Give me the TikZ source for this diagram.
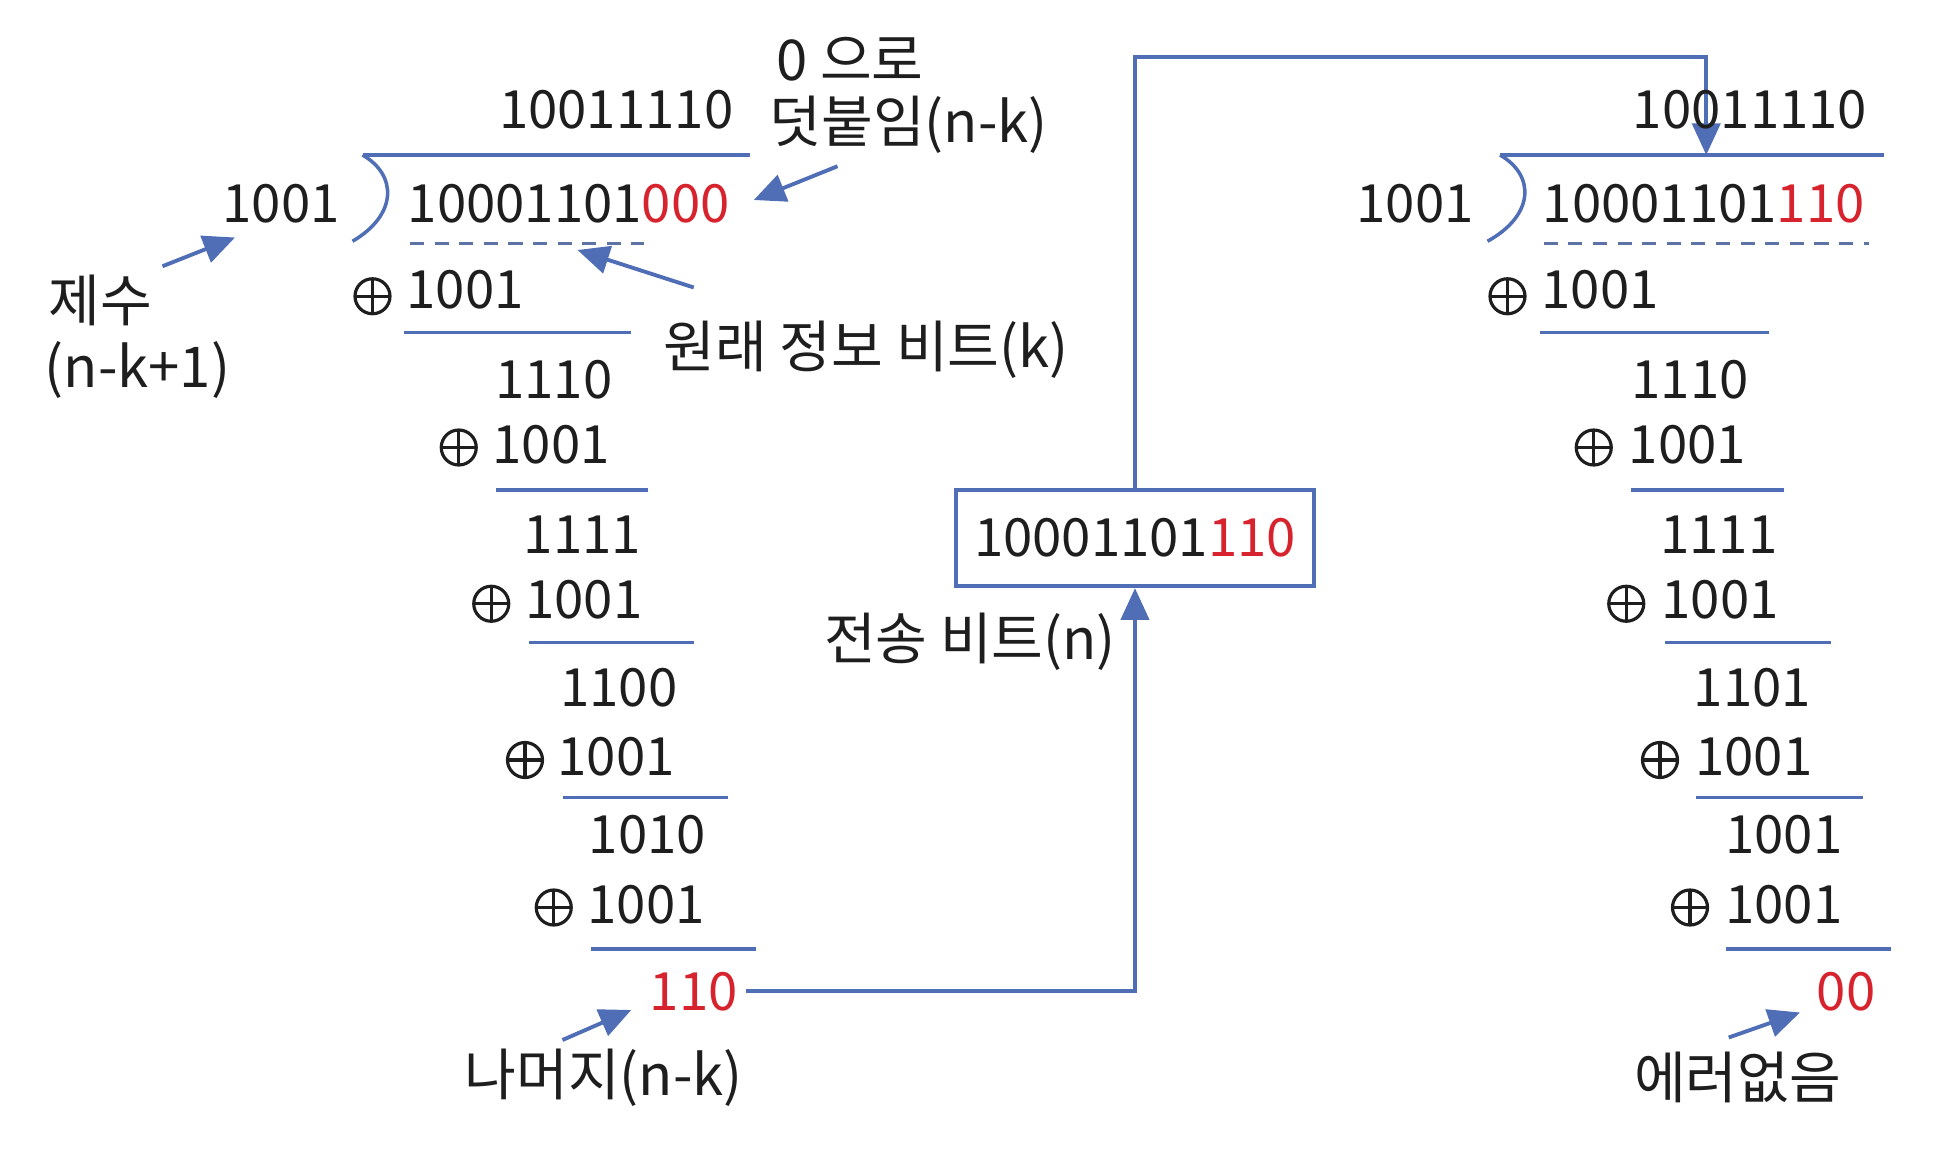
\documentclass[tikz,border=0pt]{standalone}
\usepackage{fontspec}
\setmainfont{Noto Sans CJK KR}
\usetikzlibrary{arrows.meta}
\definecolor{lblue}{RGB}{79,110,181}
\definecolor{dred}{RGB}{215,35,45}
\definecolor{txt}{RGB}{30,30,30}
\tikzset{
  num/.style={font=\fontsize{15}{17}\selectfont, inner sep=0pt, text=txt},
  kor/.style={font=\fontsize{16}{18}\selectfont, inner sep=0pt, text=txt},
  xorsym/.style={circle, draw=txt, line width=0.9pt, inner sep=0pt, minimum size=0.35cm,
    path picture={\draw[txt, line width=0.9pt] (path picture bounding box.north) -- (path picture bounding box.south)
      (path picture bounding box.west) -- (path picture bounding box.east);}},
  rule/.style={draw=lblue, line width=1pt},
  dashrule/.style={draw=lblue!70!gray, line width=0.8pt, dash pattern=on 4pt off 3pt},
  pointer/.style={draw=lblue, line width=1.1pt, -{Triangle[length=9pt,width=8pt]}},
  flow/.style={draw=lblue, line width=1.1pt, -{Triangle[length=9pt,width=8pt]}},
}
\newcommand{\rd}[1]{\textcolor{dred}{#1}}
\begin{document}
\begin{tikzpicture}[x=0.0125cm,y=-0.0125cm]
\useasboundingbox (0,0) rectangle (1568,926);
% ---------------- left division ----------------
\node[num] (lq) at (493,88) {10011110};
\node[kor] (lzero1) at (680,47) {0 으로};
\node[kor] (lzero2) at (727,100) {덧붙임(n-k)};
\draw[rule] (290,124) -- (600,124);
\draw[rule] (290,124) .. controls (318,140) and (318,172) .. (282,193);
\node[num] (ldiv) at (225,163) {1001};
\node[num] (ldvd) at (455,163) {10001101\rd{000}};
\draw[dashrule] (328,195) -- (515,195);
\node[kor] (lje) at (80,240) {제수};
\node[kor] (ljenk) at (110,296) {(n-k+1)};
\node[kor] (lorig) at (693,280) {원래 정보 비트(k)};
\coordinate (a1s) at (130,213); \coordinate (a1e) at (188,190);
\coordinate (a2s) at (670,133); \coordinate (a2e) at (603,160);
\coordinate (a3s) at (555,230); \coordinate (a3e) at (462,200);
\draw[pointer] (a1s) -- (a1e);
\draw[pointer] (a2s) -- (a2e);
\draw[pointer] (a3s) -- (a3e);
% steps
\node[xorsym] (lx1) at (298,237) {};
\node[num] (ls1) at (372,232) {1001};
\draw[rule] (323,266) -- (505,266);
\node[num] (lr1) at (443,304) {1110};
\node[xorsym] (lx2) at (367,358) {};
\node[num] (ls2) at (441,356) {1001};
\draw[rule] (397,392) -- (518,392);
\node[num] (lr2) at (466,428) {1111};
\node[xorsym] (lx3) at (393,483) {};
\node[num] (ls3) at (467,480) {1001};
\draw[rule] (423,514) -- (555,514);
\node[num] (lr3) at (495,550) {1100};
\node[xorsym] (lx4) at (420,608) {};
\node[num] (ls4) at (493,605) {1001};
\draw[rule] (450,638) -- (582,638);
\node[num] (lr4) at (518,668) {1010};
\node[xorsym] (lx5) at (443,726) {};
\node[num] (ls5) at (517,724) {1001};
\draw[rule] (473,759) -- (605,759);
\node[num,text=dred] (lrem) at (555,793) {110};
\node[kor] (lnam) at (483,862) {나머지(n-k)};
\coordinate (a4s) at (450,832); \coordinate (a4e) at (505,808);
\draw[pointer] (a4s) -- (a4e);
% ---------------- transmitted box ----------------
\node[num, draw=lblue, line width=1.1pt, minimum width=286*0.0125cm, minimum height=77*0.0125cm] (box) at (908,430.5) {10001101\rd{110}};
\node[kor] (ltx) at (776,513) {전송 비트(n)};
\draw[flow] (lrem.east) ++(6,0) -| (box.south);
\coordinate (rtgt) at (1365,124);
\draw[flow] (box.north) -- ++(0,-345) -| (rtgt);
% ---------------- right division ----------------
\node[num] (rq) at (1400,88) {10011110};
\draw[rule] (1200,124) -- (1507,124);
\draw[rule] (1200,124) .. controls (1228,140) and (1228,172) .. (1190,193);
\node[num] (rdiv) at (1132,163) {1001};
\node[num] (rdvd) at (1363,163) {10001101\rd{110}};
\draw[dashrule] (1235,195) -- (1495,195);
\node[xorsym] (rx1) at (1206,237) {};
\node[num] (rs1) at (1280,232) {1001};
\draw[rule] (1232,266) -- (1415,266);
\node[num] (rr1) at (1352,304) {1110};
\node[xorsym] (rx2) at (1275,358) {};
\node[num] (rs2) at (1350,356) {1001};
\draw[rule] (1305,392) -- (1427,392);
\node[num] (rr2) at (1375,428) {1111};
\node[xorsym] (rx3) at (1301,483) {};
\node[num] (rs3) at (1376,480) {1001};
\draw[rule] (1332,514) -- (1465,514);
\node[num] (rr3) at (1402,550) {1101};
\node[xorsym] (rx4) at (1328,608) {};
\node[num] (rs4) at (1403,605) {1001};
\draw[rule] (1357,638) -- (1490,638);
\node[num] (rr4) at (1427,668) {1001};
\node[xorsym] (rx5) at (1352,726) {};
\node[num] (rs5) at (1427,724) {1001};
\draw[rule] (1381,759) -- (1513,759);
\node[num,text=dred] (rrem) at (1477,793) {00};
\node[kor] (rerr) at (1390,862) {에러없음};
\coordinate (a5s) at (1383,830); \coordinate (a5e) at (1440,810);
\draw[pointer] (a5s) -- (a5e);
\end{tikzpicture}
\end{document}
